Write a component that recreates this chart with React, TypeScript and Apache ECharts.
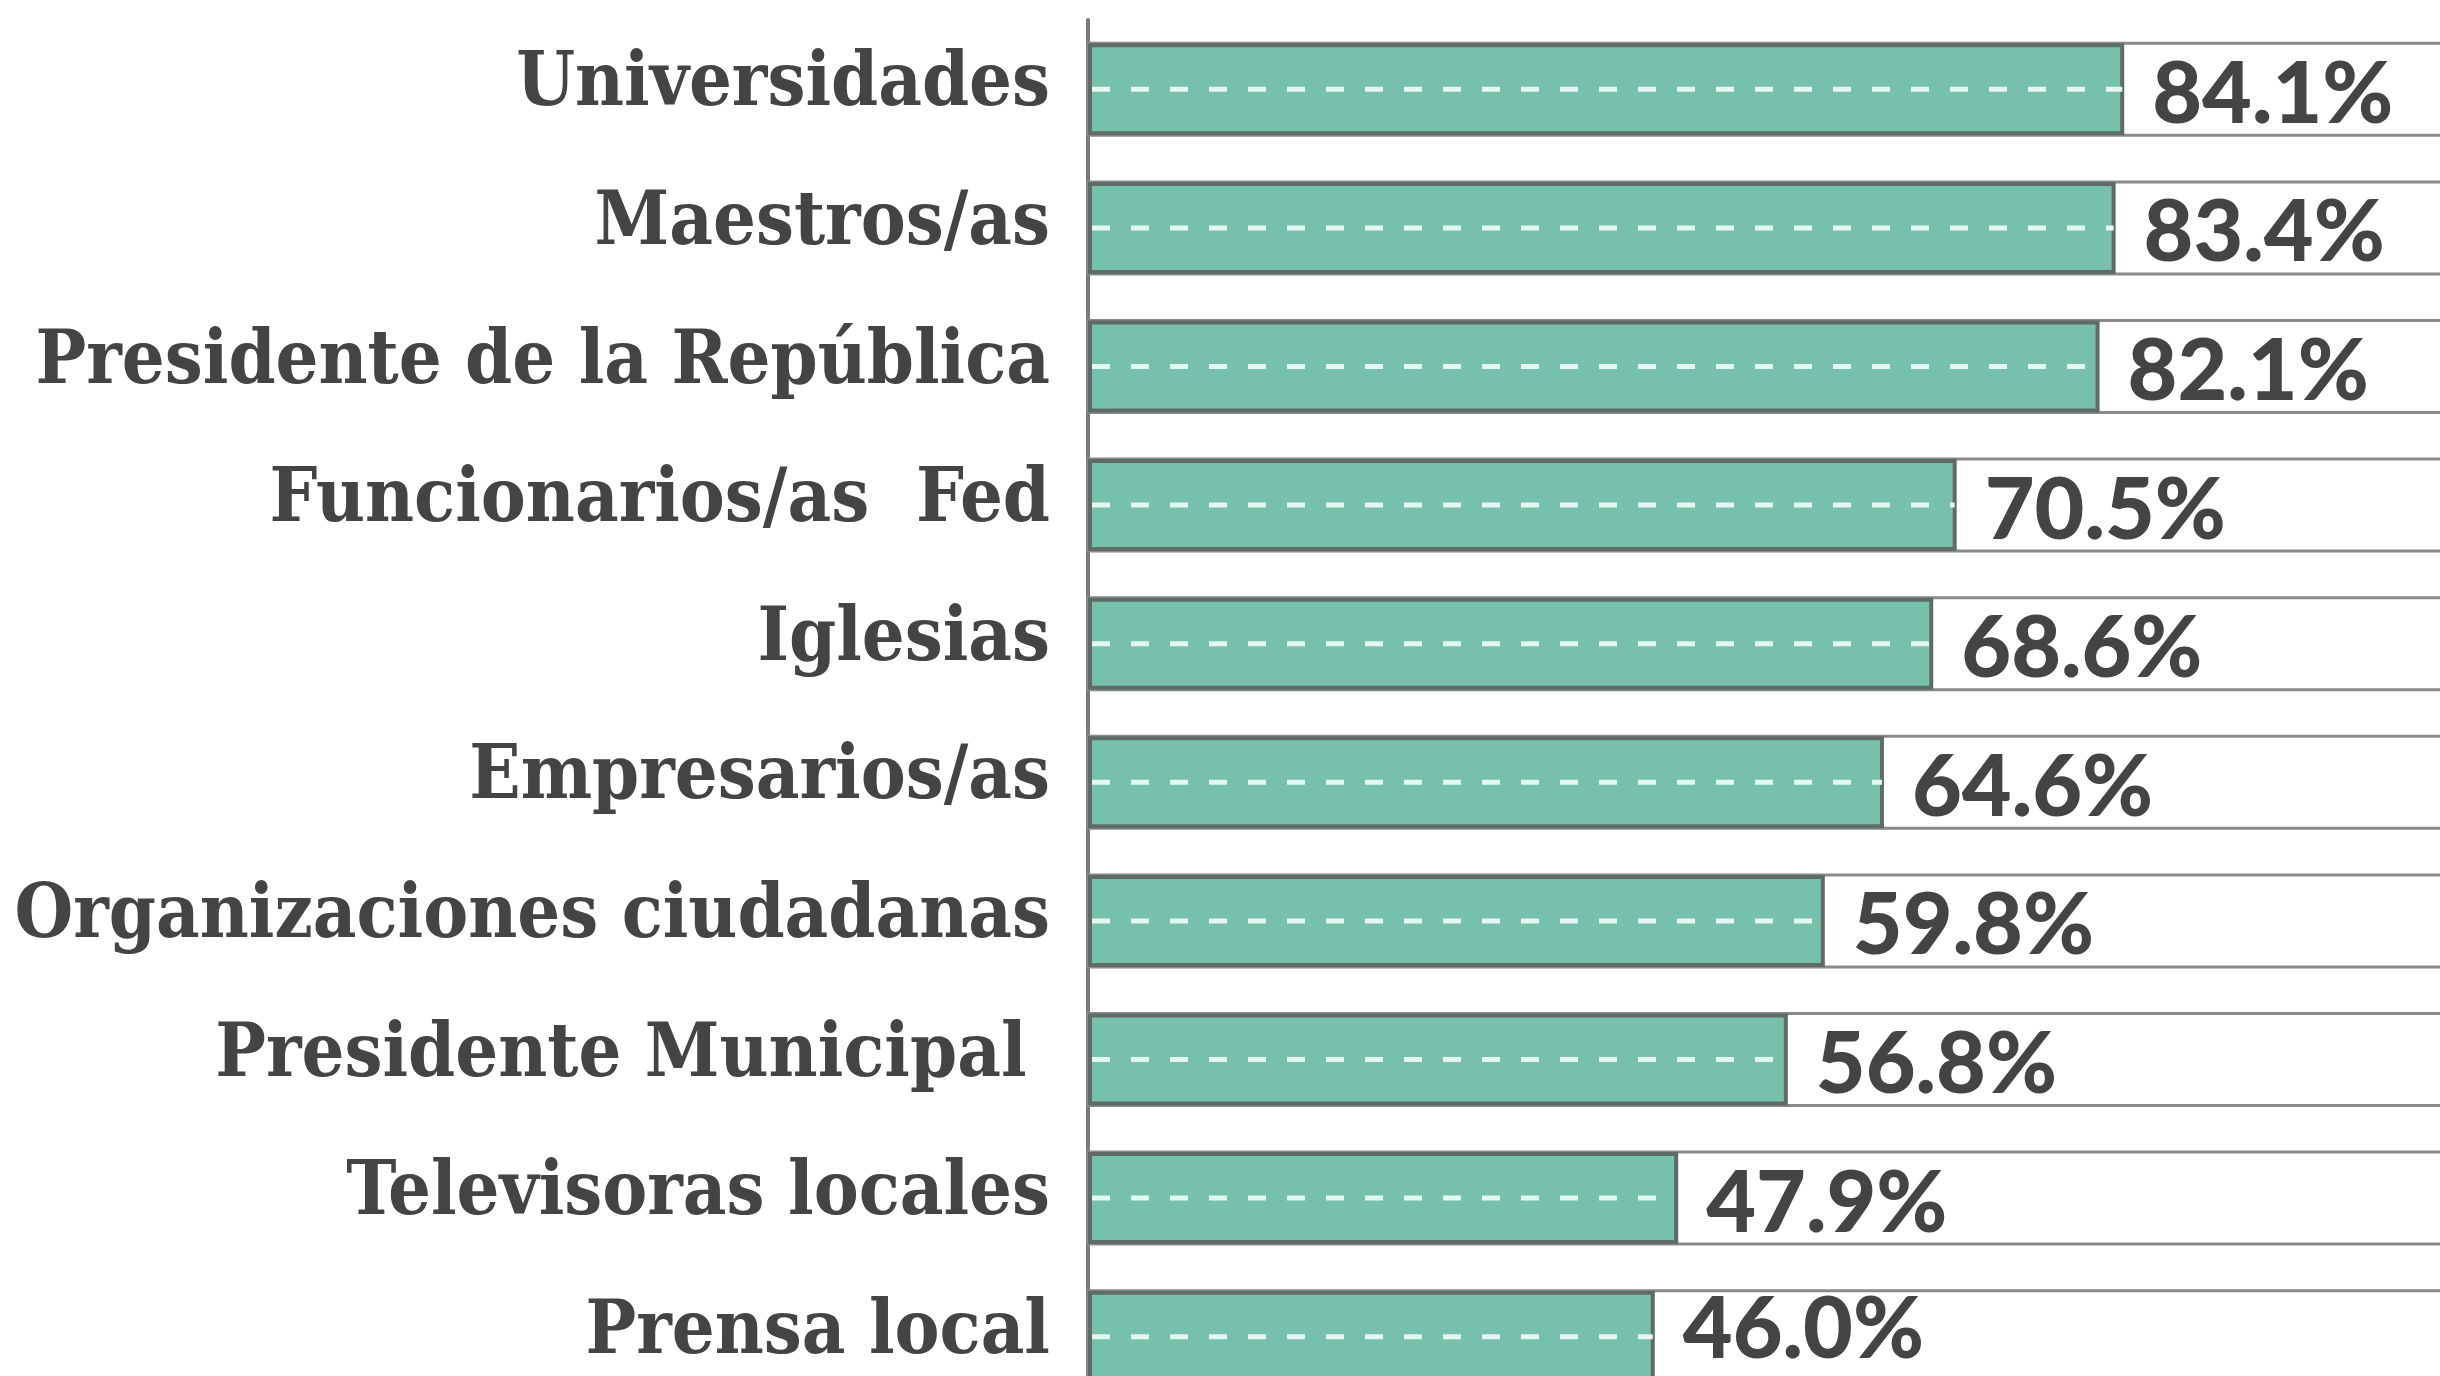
import React, { useEffect, useRef } from "react";
import * as echarts from "echarts";

const categories = [
  "Universidades",
  "Maestros/as",
  "Presidente de la República",
  "Funcionarios/as  Fed",
  "Iglesias",
  "Empresarios/as",
  "Organizaciones ciudadanas",
  "Presidente Municipal ",
  "Televisoras locales",
  "Prensa local",
];

const values = [84.1, 83.4, 82.1, 70.5, 68.6, 64.6, 59.8, 56.8, 47.9, 46.0];

const TEXT = "#444444";

export default function App() {
  const ref = useRef<HTMLDivElement>(null);

  useEffect(() => {
    if (!ref.current) return;
    const chart = echarts.init(ref.current, null, { renderer: "svg" });
    const lastIdx = values.length - 1;
    chart.setOption({
      animation: false,
      backgroundColor: "#ffffff",
      grid: {
        left: 1088,
        width: 1380,
        top: 20,
        height: 1386,
        outerBoundsMode: "none",
        containLabel: false,
      },
      xAxis: {
        type: "value",
        min: 0,
        max: 112,
        show: false,
      },
      yAxis: {
        type: "category",
        data: categories,
        inverse: true,
        axisLine: { show: true, lineStyle: { color: "#7a7a7a", width: 4 } },
        axisTick: { show: false },
        axisLabel: {
          margin: 38,
          formatter: (v: string) => "{a|" + v + "}",
          rich: {
            a: {
              color: TEXT,
              fontSize: 75,
              lineHeight: 68,
              padding: [0, 0, 20, 0],
              fontWeight: "bold",
              fontFamily: "'DejaVu Serif Condensed', 'DejaVu Serif', serif",
            },
          },
        },
      },
      series: [
        {
          type: "bar",
          data: values.map((v, i) =>
            i === lastIdx ? { value: v, label: { offset: [0, -12] } } : v
          ),
          barWidth: 92,
          showBackground: true,
          backgroundStyle: {
            color: "#ffffff",
            borderColor: "#8a8a8a",
            borderWidth: 3,
          },
          itemStyle: {
            color: "#77c0ab",
            borderColor: "#5f6b67",
            borderWidth: 4,
          },
          label: {
            show: true,
            position: "right",
            distance: 28,
            color: TEXT,
            fontSize: 86,
            lineHeight: 72,
            fontWeight: 900,
            fontFamily: "Lato, 'Open Sans', sans-serif",
            formatter: (p: any) => Number(p.value).toFixed(1) + "%",
          },
          z: 2,
        },
        {
          type: "custom",
          data: values.map((v, i) => [v, i]),
          encode: { x: 0, y: 1 },
          z: 3,
          silent: true,
          renderItem: (params: any, api: any) => {
            const v = api.value(0);
            const c = api.value(1);
            const s = api.coord([0, c]);
            const e = api.coord([v, c]);
            return {
              type: "line",
              shape: { x1: s[0] + 4, y1: s[1], x2: e[0] - 2, y2: e[1] },
              style: {
                stroke: "#e2f8f0",
                lineWidth: 5,
                lineDash: [18, 21],
              },
            };
          },
        },
      ],
    });
    return () => chart.dispose();
  }, []);

  return (
    <div
      ref={ref}
      style={{ position: "absolute", left: 0, top: 0, width: 2440, height: 1376 }}
    />
  );
}
